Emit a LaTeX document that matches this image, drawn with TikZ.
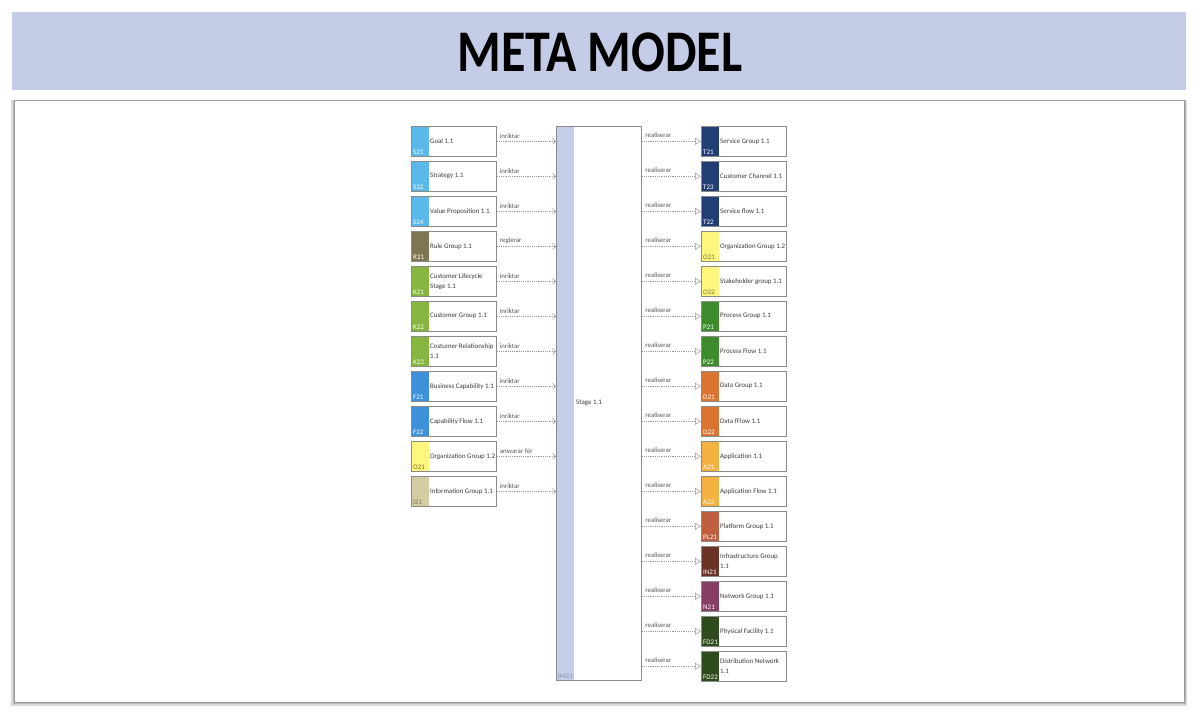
\documentclass[tikz,border=0pt]{standalone}
\usepackage{fontspec}
\setmainfont{Carlito}
\usetikzlibrary{arrows.meta}
\definecolor{titleblue}{HTML}{C5CCE8}
\definecolor{stageblue}{HTML}{C5CDE8}
\definecolor{boxgray}{HTML}{8A8A8A}
\definecolor{txtgray}{HTML}{3A3A3A}
\definecolor{relgray}{HTML}{555555}
\definecolor{cS}{HTML}{5AB9EA}
\definecolor{cR}{HTML}{7E7650}
\definecolor{cK}{HTML}{86B540}
\definecolor{cF}{HTML}{3D91DB}
\definecolor{cO}{HTML}{FFF67E}
\definecolor{cI}{HTML}{D3CDA3}
\definecolor{cT}{HTML}{213F74}
\definecolor{cP}{HTML}{3E8B2E}
\definecolor{cD}{HTML}{DB7430}
\definecolor{cA}{HTML}{F3B13F}
\definecolor{cPL}{HTML}{BF5F3F}
\definecolor{cIN}{HTML}{6A3326}
\definecolor{cN}{HTML}{883D66}
\definecolor{cFD}{HTML}{2E4B1D}
\definecolor{lO}{HTML}{7A7430}
\definecolor{lI}{HTML}{7A7560}
\definecolor{lIM}{HTML}{8890B0}
\begin{document}
\begin{tikzpicture}[x=1pt,y=-1pt,
  elem/.style={draw=boxgray,line width=0.6pt,fill=white,minimum width=85pt,minimum height=30pt,
    anchor=north west,inner sep=0pt,
    path picture={\fill[#1] (path picture bounding box.north west) rectangle ([xshift=18pt]path picture bounding box.south west);}},
  codelbl/.style={anchor=south west,inner sep=0pt,font=\fontsize{7}{7}\selectfont},
  boxtxt/.style={anchor=west,inner sep=0pt,align=left,text=txtgray,font=\fontsize{6.9}{9.8}\selectfont},
  rellbl/.style={anchor=south west,inner sep=0pt,text=relgray,font=\fontsize{6.8}{7}\selectfont},
  conn/.style={draw=black!40,line width=0.5pt,dash pattern=on 1.2pt off 1pt},
  dep/.style={conn,-{Straight Barb[length=3pt,width=6pt,line width=0.5pt]}},
  real/.style={conn,-{Triangle[open,length=6pt,width=7pt,fill=white,line width=0.5pt]}}]
\useasboundingbox (0,0) rectangle (1200,717);
% title band
\fill[titleblue] (12,12) rectangle (1186,90);
\node[font=\bfseries\fontsize{50}{50}\selectfont,yscale=1.18] (title) at (600,52) {META MODEL};
% frame with shadow
\fill[black!15] (11,100) rectangle (1187,706);
\fill[black!28] (13,101) rectangle (1186,704);
\draw[black!40,fill=white,line width=0.6pt] (14,100) rectangle (1184,702);
% stage
\node[elem=stageblue,minimum height=554pt] (stage) at (556,126) {};
\node[codelbl,text=lIM] (stagec) at ([xshift=2pt,yshift=2pt]stage.south west) {IM21};
\node[boxtxt] (staget) at ([xshift=20pt]stage.west) {Stage 1.1};
% left elements
\foreach \i/\code/\txt/\col/\lc/\rel in {
  1/S21/{Goal 1.1}/cS/white/inriktar,
  2/S22/{Strategy 1.1}/cS/white/inriktar,
  3/S24/{Value Proposition 1.1}/cS/white/inriktar,
  4/R21/{Rule Group 1.1}/cR/white/reglerar,
  5/K21/{Customer Lifecycle\\Stage 1.1}/cK/white/inriktar,
  6/K22/{Customer Group 1.1}/cK/white/inriktar,
  7/K23/{Costumer Relationship\\1.1}/cK/white/inriktar,
  8/F21/{Business Capability 1.1}/cF/white/inriktar,
  9/F22/{Capability Flow 1.1}/cF/white/inriktar,
  10/O21/{Organization Group 1.2}/cO/lO/{ansvarar för},
  11/I21/{Information Group 1.1}/cI/lI/inriktar}{
  \pgfmathsetmacro\ytop{126+35*(\i-1)}
  \node[elem=\col] (L\i) at (411,\ytop) {};
  \node[codelbl,text=\lc] (Lc\i) at ([xshift=2pt,yshift=1.5pt]L\i.south west) {\code};
  \node[boxtxt] (Lt\i) at ([xshift=19pt]L\i.west) {\txt};
  \draw[dep] (L\i.east) -- (L\i.east -| stage.west)
    node[rellbl,pos=0,xshift=3pt,yshift=2.5pt] {\rel};
}
% right elements
\foreach \i/\code/\txt/\col/\lc in {
  1/T21/{Service Group 1.1}/cT/white,
  2/T23/{Customer Channel 1.1}/cT/white,
  3/T22/{Service flow 1.1}/cT/white,
  4/O21/{Organization Group 1.2}/cO/lO,
  5/O22/{Stakeholder group 1.1}/cO/lO,
  6/P21/{Process Group 1.1}/cP/white,
  7/P22/{Process Flow 1.1}/cP/white,
  8/D21/{Data Group 1.1}/cD/white,
  9/D22/{Data fFlow 1.1}/cD/white,
  10/A21/{Application 1.1}/cA/white,
  11/A22/{Application Flow 1.1}/cA/white,
  12/PL21/{Platform Group 1.1}/cPL/white,
  13/IN21/{Infrastructure Group\\1.1}/cIN/white,
  14/N21/{Network Group 1.1}/cN/white,
  15/FD21/{Physical Facility 1.1}/cFD/white,
  16/FD22/{Distribution Network\\1.1}/cFD/white}{
  \pgfmathsetmacro\ytop{126+35*(\i-1)}
  \node[elem=\col] (R\i) at (701,\ytop) {};
  \node[codelbl,text=\lc] (Rc\i) at ([xshift=2pt,yshift=1.5pt]R\i.south west) {\code};
  \node[boxtxt] (Rt\i) at ([xshift=19pt]R\i.west) {\txt};
  \draw[real] (stage.east |- R\i.west) -- (R\i.west)
    node[rellbl,pos=0,xshift=3.5pt,yshift=3.5pt] {realiserar};
}
\end{tikzpicture}
\end{document}
